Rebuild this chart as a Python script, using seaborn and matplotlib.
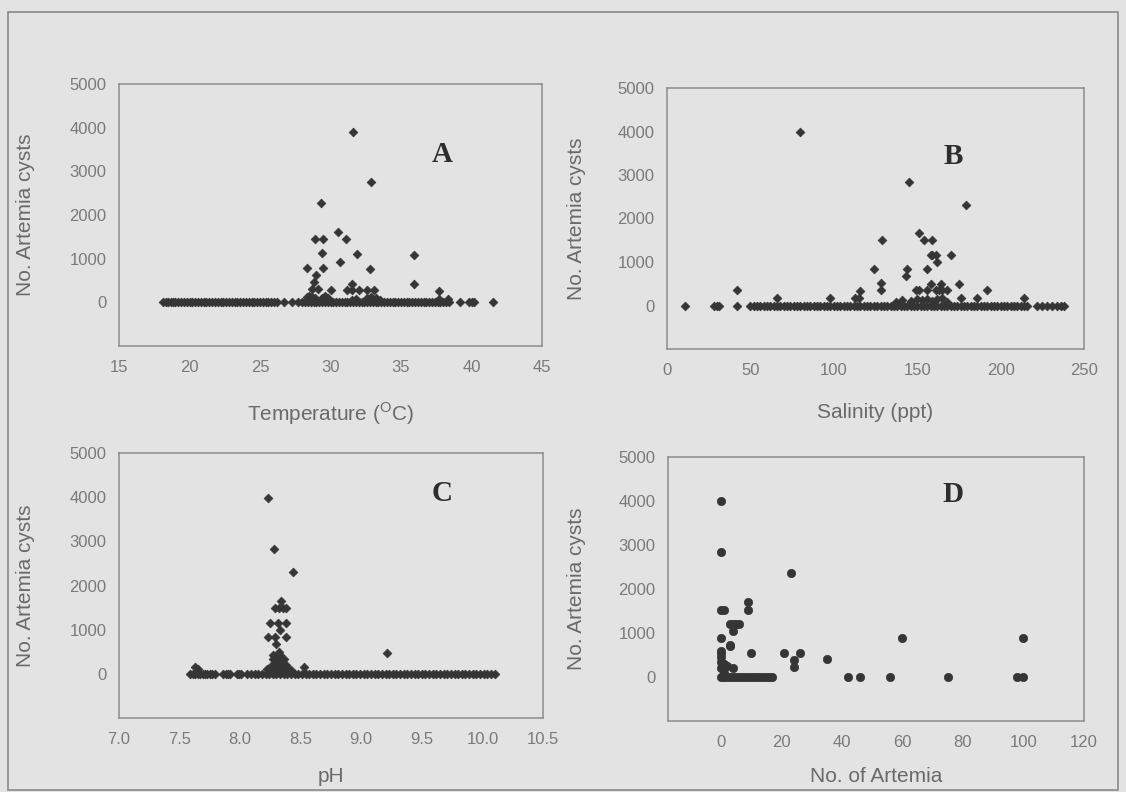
import matplotlib
matplotlib.use("Agg")
import matplotlib.pyplot as plt
from matplotlib.patches import Rectangle
import seaborn as sns
import pandas as pd

# ---------------- data ----------------
# A: temperature (deg C) vs number of Artemia cysts
temp_x = [31.6, 32.9, 29.3, 30.5, 28.9, 29.5, 31.1, 29.4, 31.9, 30.7, 28.3, 29.5,
          32.8, 29.0, 28.8, 31.5, 28.7, 29.1, 30.0, 31.2, 31.5, 32.0, 32.6, 33.1,
          35.9, 35.9, 37.7, 37.7, 38.3,
          28.3, 28.5, 28.7, 28.9, 29.4, 29.6, 29.8, 31.5, 31.8, 32.6, 32.9, 33.2, 33.5]
temp_y = [3900, 2750, 2270, 1610, 1440, 1440, 1440, 1120, 1100, 930, 780, 780,
          760, 620, 460, 430, 300, 300, 280, 280, 280, 280, 280, 280,
          1080, 410, 260, 80, 80,
          120, 150, 130, 100, 110, 140, 90, 60, 70, 100, 120, 90, 60]
temp_zero = [18.1, 18.3, 18.5, 18.7, 18.8, 19.0, 19.2, 19.4, 19.6, 19.8, 20.0, 20.2,
             20.4, 20.6, 20.8, 21.0, 21.2, 21.4, 21.6, 21.8, 22.0, 22.2, 22.4, 22.6,
             22.8, 23.0, 23.2, 23.4, 23.6, 23.8, 24.0, 24.2, 24.4, 24.6, 24.8, 25.0,
             25.2, 25.4, 25.6, 25.8, 26.0, 26.2,
             26.7, 27.3, 27.7, 28.0,
             28.2, 28.4, 28.6, 28.8, 29.0, 29.2, 29.4, 29.6, 29.8, 30.0, 30.2, 30.4,
             30.6, 30.8, 31.0, 31.2, 31.4, 31.6, 31.8, 32.0, 32.2, 32.4, 32.6, 32.8,
             33.0, 33.2, 33.4, 33.6, 33.8, 34.0, 34.2, 34.4, 34.6, 34.8, 35.0, 35.2,
             35.4, 35.6, 35.8, 36.0, 36.2, 36.4, 36.6, 36.8, 37.0, 37.2, 37.4, 37.6,
             37.8, 38.0, 38.2, 38.4,
             39.2, 39.8, 40.0, 40.2, 41.5]

# B: salinity (ppt) vs number of Artemia cysts
sal_x = [80, 145, 179, 151, 154, 159, 129, 158, 159, 161, 170, 162, 124, 144, 156,
         143, 128, 158, 164, 175, 42, 116, 128, 149, 151, 156, 161, 163, 165, 168,
         192, 66, 98, 113, 115, 214, 176, 186,
         137, 141, 146, 150, 153, 156, 159, 162, 165, 168]
sal_y = [4000, 2830, 2320, 1670, 1500, 1500, 1500, 1160, 1160, 1160, 1160, 1000, 840, 840, 840,
         670, 510, 500, 490, 490, 350, 330, 350, 350, 350, 350, 350, 350, 350, 350,
         350, 180, 180, 170, 170, 170, 170, 170,
         80, 120, 100, 150, 120, 160, 110, 140, 170, 90]
sal_zero = [11, 28, 30, 31, 42,
            50, 52, 54, 56, 58, 60, 62, 64, 66, 68, 70, 72, 74, 76, 78, 80, 82, 84,
            86, 88, 90, 92, 94, 96, 98, 100, 102, 104, 106, 108, 110, 112, 114, 116,
            118, 120, 122, 124, 126, 128, 130, 132, 134, 136, 138, 140, 142, 144, 146,
            148, 150, 152, 154, 156, 158, 160, 162, 164, 166, 168, 170, 172, 174, 176,
            178, 180, 182, 184, 186, 188, 190, 192, 194, 196, 198, 200, 202, 204, 206,
            208, 210, 212, 214, 216,
            222, 225, 228, 231, 234, 236, 238]

# C: pH vs number of Artemia cysts
ph_x = [8.23, 8.28, 8.44, 8.34, 8.29, 8.32, 8.35, 8.38, 8.25, 8.31, 8.38, 8.33,
        8.23, 8.29, 8.38, 8.30, 8.32, 8.27, 8.30, 8.33, 8.36, 8.26, 8.29, 8.32,
        8.35, 8.38, 8.53, 9.21, 7.63, 7.65, 8.24, 8.28, 8.34, 8.40,
        8.22, 8.26, 8.30, 8.34, 8.38, 8.42, 8.27, 8.33]
ph_y = [3980, 2820, 2310, 1650, 1490, 1490, 1490, 1490, 1160, 1160, 1160, 1000,
        830, 830, 830, 670, 490, 330, 330, 330, 330, 200, 200, 200,
        200, 200, 160, 480, 150, 120, 80, 90, 70, 80,
        110, 120, 100, 130, 110, 90, 420, 420]
ph_zero = [7.59, 7.61, 7.63, 7.65, 7.67, 7.69, 7.71, 7.73, 7.75, 7.77, 7.79,
           7.86, 7.88, 7.90, 7.92, 7.97, 7.99, 8.01,
           8.06, 8.09, 8.12, 8.15, 8.18, 8.21, 8.24, 8.27, 8.30, 8.33, 8.36, 8.39,
           8.42, 8.45, 8.48, 8.51, 8.54, 8.57, 8.60, 8.63, 8.66, 8.69, 8.72, 8.75,
           8.78, 8.81, 8.84, 8.87, 8.90, 8.93, 8.96, 8.99, 9.02, 9.05, 9.08, 9.11,
           9.14, 9.17, 9.20, 9.23, 9.26, 9.29, 9.32, 9.35, 9.38, 9.41, 9.44, 9.47,
           9.50, 9.53, 9.56, 9.59, 9.62, 9.65, 9.68, 9.71, 9.74, 9.77, 9.80, 9.83,
           9.86, 9.89, 9.92, 9.95, 9.98, 10.01, 10.04, 10.07, 10.10]

# D: number of Artemia vs number of Artemia cysts
art_x = [0, 0, 23, 9, 9, 0, 1, 3, 4, 5, 6, 4, 0, 60, 100, 3, 0, 10, 21, 26, 35,
         24, 24, 4, 3, 0, 0, 1, 2, 0, 1, 0]
art_y = [4000, 2850, 2360, 1700, 1520, 1520, 1520, 1200, 1200, 1200, 1200, 1040, 880,
         880, 880, 700, 540, 540, 540, 540, 400, 380, 230, 200, 720, 450, 350, 300,
         250, 200, 100, 600]
art_zero = [0, 1, 2, 3, 4, 5, 6, 7, 8, 9, 10, 11, 12, 13, 14, 15, 16, 17,
            42, 46, 56, 75, 98, 100]

y_ticks = [0, 1000, 2000, 3000, 4000, 5000]
temp_ticks = [15, 20, 25, 30, 35, 40, 45]
sal_ticks = [0, 50, 100, 150, 200, 250]
ph_ticks = [7.0, 7.5, 8.0, 8.5, 9.0, 9.5, 10.0, 10.5]
art_ticks = [0, 20, 40, 60, 80, 100, 120]

# ---------------- style ----------------
W, H = 1126, 792
BG = "#e3e3e3"
DOT = "#353535"
GRAY_TXT = "#7a7a7a"
LABEL_TXT = "#6a6a6a"
SPINE = "#8c8c8c"

sns.set_theme(style="white")
plt.rcParams["font.family"] = ["Liberation Sans", "DejaVu Sans"]
plt.rcParams["mathtext.fontset"] = "custom"
plt.rcParams["mathtext.rm"] = "Liberation Sans"
plt.rcParams["mathtext.sf"] = "Liberation Sans"

fig = plt.figure(figsize=(W / 100, H / 100), dpi=100, facecolor=BG)


def px_box(left, right, top, bottom):
    return [left / W, 1 - bottom / H, (right - left) / W, (bottom - top) / H]


panels = [
    dict(box=px_box(119, 542, 84, 346), x=temp_x, y=temp_y, zero=temp_zero,
         xlim=(15, 45), xticks=temp_ticks, fmt="{:g}",
         xlabel=r"Temperature ($^{\mathsf{O}}$C)", letter="A", lpos=(442, 155),
         marker="D", s=20, ylab_x=26, xlab_y=414),
    dict(box=px_box(667, 1084, 88, 349), x=sal_x, y=sal_y, zero=sal_zero,
         xlim=(0, 250), xticks=sal_ticks, fmt="{:g}",
         xlabel="Salinity (ppt)", letter="B", lpos=(953, 156),
         marker="D", s=20, ylab_x=576, xlab_y=412),
    dict(box=px_box(119, 543, 453, 718), x=ph_x, y=ph_y, zero=ph_zero,
         xlim=(7.0, 10.5), xticks=ph_ticks, fmt="{:.1f}",
         xlabel="pH", letter="C", lpos=(442, 493),
         marker="D", s=20, ylab_x=26, xlab_y=777),
    dict(box=px_box(668, 1084, 457, 721), x=art_x, y=art_y, zero=art_zero,
         xlim=(-17.5, 120), xticks=art_ticks, fmt="{:g}",
         xlabel="No. of Artemia", letter="D", lpos=(953, 495),
         marker="o", s=36, ylab_x=576, xlab_y=777),
]

for p in panels:
    ax = fig.add_axes(p["box"])
    ax.set_facecolor(BG)
    df = pd.DataFrame({"x": list(p["x"]) + list(p["zero"]),
                       "y": list(p["y"]) + [0] * len(p["zero"])})
    sns.scatterplot(data=df, x="x", y="y", ax=ax, marker=p["marker"], s=p["s"],
                    color=DOT, edgecolor=DOT, linewidth=0.5, legend=False, zorder=3)
    ax.set_xlim(*p["xlim"])
    ax.set_ylim(-1000, 5000)
    ax.set_xticks(p["xticks"])
    ax.set_xticklabels([p["fmt"].format(v) for v in p["xticks"]])
    ax.set_yticks(y_ticks)
    ax.set_yticklabels([str(v) for v in y_ticks])
    for sp in ax.spines.values():
        sp.set_color(SPINE)
        sp.set_linewidth(1.1)
    ax.tick_params(axis="both", direction="out", length=3, width=0.9, color=SPINE,
                   labelcolor=GRAY_TXT, labelsize=12, pad=7)
    ax.tick_params(axis="y", pad=6)
    ax.set_xlabel("")
    ax.set_ylabel("")
    # axis titles, placed in figure pixel space
    fig.text(p["ylab_x"] / W, p["box"][1] + p["box"][3] / 2, "No. Artemia cysts",
             rotation=90, ha="center", va="center", fontsize=15, color=LABEL_TXT)
    xc = p["box"][0] + p["box"][2] / 2
    fig.text(xc, 1 - p["xlab_y"] / H, p["xlabel"], ha="center", va="center",
             fontsize=15, color=LABEL_TXT)
    fig.text(p["lpos"][0] / W, 1 - p["lpos"][1] / H, p["letter"], ha="center",
             va="center", fontsize=21, fontweight="bold", color="#2e2e2e",
             family=["Liberation Serif", "DejaVu Serif"])

# outer frame of the figure panel
fig.patches.append(Rectangle((8 / W, 2 / H), (1118 - 8) / W, (780 - 2) / H,
                             transform=fig.transFigure, fill=False,
                             edgecolor="#8a8a8a", linewidth=1.2))

fig.savefig("out.png", dpi=100, facecolor=BG)
